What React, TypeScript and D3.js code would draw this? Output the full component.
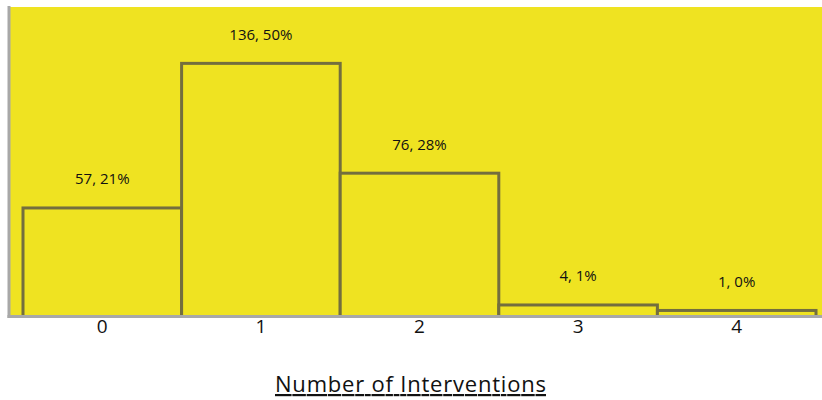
import React from "react";
import * as d3 from "d3";

const categories = ["0", "1", "2", "3", "4"];
const counts = [57, 136, 76, 4, 1];
const percents = [21, 50, 28, 1, 0];
const axisTitle = "Number of Interventions";

const W = 822;
const H = 400;
const plot = { left: 9, right: 822, top: 7, bottom: 316.5 };

export default function App() {
  const x = d3.scaleBand<string>().domain(categories).range([23, 816]).padding(0);
  // value axis baseline sits slightly below zero, as in the source chart
  const y = d3.scaleLinear().domain([-2.3, 166.8]).range([plot.bottom, plot.top]);

  return (
    <svg
      width={W}
      height={H}
      style={{ position: "absolute", left: 0, top: 0, background: "#ffffff" }}
      fontFamily="'Open Sans', 'Liberation Sans', sans-serif"
    >
      <rect
        x={plot.left}
        y={plot.top}
        width={plot.right - plot.left}
        height={plot.bottom - plot.top}
        fill="#EFE321"
      />
      {categories.map((c, i) => (
        <g key={c}>
          <rect
            x={x(c)!}
            y={y(counts[i])}
            width={x.bandwidth()}
            height={plot.bottom - y(counts[i])}
            fill="#EFE321"
            stroke="#736E3E"
            strokeWidth={3}
          />
          <text
            x={x(c)! + x.bandwidth() / 2}
            y={y(counts[i]) - 23.5}
            textAnchor="middle"
            fontSize={15}
            fill="#111"
          >
            {`${counts[i]}, ${percents[i]}%`}
          </text>
          <text
            x={x(c)! + x.bandwidth() / 2}
            y={333}
            textAnchor="middle"
            fontSize={19}
            fill="#111"
          >
            {c}
          </text>
        </g>
      ))}
      <line x1={plot.left} x2={plot.left} y1={plot.top - 1} y2={plot.bottom + 1.5} stroke="#A8A8A8" strokeWidth={3} />
      <line x1={plot.left - 1.5} x2={plot.right} y1={plot.bottom} y2={plot.bottom} stroke="#A8A8A8" strokeWidth={3} />
      <text
        x={410.5}
        y={392}
        textAnchor="middle"
        fontSize={22}
        fill="#111"
        textDecoration="underline"
        textLength={271}
        lengthAdjust="spacing"
      >
        {axisTitle}
      </text>
    </svg>
  );
}
